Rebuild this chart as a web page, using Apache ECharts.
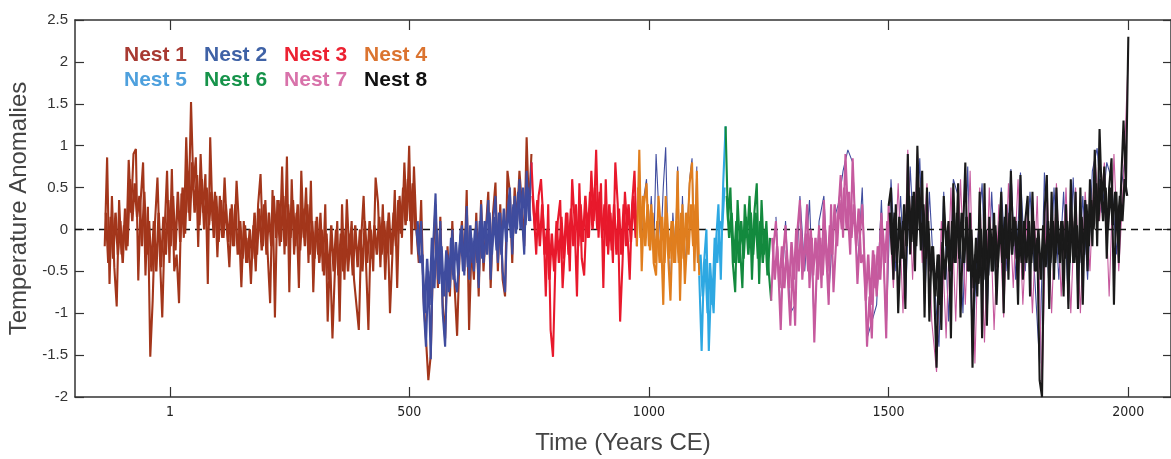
<!DOCTYPE html>
<html>
<head>
<meta charset="utf-8">
<script src="https://cdn.jsdelivr.net/npm/echarts@6/dist/echarts.min.js"></script>
<style>
html,body{margin:0;padding:0;background:#fff;}
#chart{width:1171px;height:459px;}
</style>
</head>
<body>
<div id="chart"></div>
<script>
// ---- data ----
const nestNames = ['Nest 1','Nest 2','Nest 3','Nest 4','Nest 5','Nest 6','Nest 7','Nest 8'];
const nestColors = ['#A3361B','#3F4C9E','#E8192C','#E07E1E','#2EA8E2','#138A3E','#C65A9E','#1A1A1A'];
const legendColors = ['#A83A32','#3F62A6','#EC2232','#DB7430','#4EA0DD','#16934A','#D872AA','#111111'];
const xTickValues = [1, 500, 1000, 1500, 2000];

// spike traces (5-year steps)
const nest1Start = -135;
const nest1 = [
 -0.2, 0.86, -0.65, 0.4, -0.45, -0.92, 0.35, -0.3, 0.05, -0.25,
 0.83, 0.2, 0.9, 0.96, -0.61, 0.35, 0.8, -0.55, 0.27, -1.52,
 -0.85, 0.1, 0.62, -0.3, -1.05, 0.0, 0.7, -0.4, 0.72, -0.5,
 -0.3, -0.88, 0.43, -0.1, 1.1, 0.2, 1.52, 0.5, 0.86, -0.21,
 0.9, 0.2, 0.66, -0.65, 1.1, 0.1, 0.45, -0.33, 0.4, -0.1,
 0.62, 0.0, -0.45, 0.3, -0.2, 0.58, 0.05, -0.69, 0.1, -0.4,
 -0.1, -0.65, 0.05, -0.5, 0.3, 0.66, -0.2, 0.35, -0.3, -0.88,
 0.47, -1.05, 0.35, -0.2, 0.75, -0.3, 0.87, -0.75, 0.6, -0.3,
 0.2, -0.7, 0.7, -0.1, 0.5, -0.4, 0.58, -0.75, 0.1, -0.3,
 0.2, -0.5, 0.3, -1.1, -0.3, -1.3, -0.5, 0.1, -1.1, 0.3,
 -0.6, 0.36, -0.3, 0.1, -0.6, -0.9, -1.2, -0.1, 0.4, -0.4,
 -1.2, 0.0, -0.5, 0.62, 0.32, -0.45, 0.3, -0.6, 0.1, -1.0,
 -0.3, 0.47, -0.7, 0.4, -0.1, 0.8, 0.1, 1.0, -0.3, 0.75, 0.0,
 // continues beneath Nest 2 (520-755)
 -0.4, 0.35, -0.8, -1.3, -1.8, -1.5, -0.3, 0.3, -0.7,
 0.15, -0.9, -1.3, -0.2, -0.8, 0.1, -0.7, -1.27, -0.3, 0.1,
 -0.5, 0.47, -1.2, -0.2, -0.6, 0.2, -0.8, 0.35, -0.5, 0.0,
 0.45, -0.7, 0.2, 0.56, -0.5, 0.3, -0.6, -0.8, 0.7, 0.45,
 -0.4, 0.5, 0.1, 0.7, 0.3, -0.2, 1.1, 0.2, 0.9
];
const nest2Start = 515;
const nest2 = [
 0.0, -0.3, 0.1, -0.9, -1.4, -0.5, -1.55, -0.2, 0.43, -0.6,
 0.1, -1.0, -1.4, -0.3, -0.7, 0.0, -0.6, -0.75, -0.2, 0.05,
 -0.55, 0.28, -0.6, -0.1, -0.5, 0.1, -0.7, 0.3, -0.4, -0.1,
 0.35, -0.6, 0.1, 0.4, -0.4, 0.2, -0.5, -0.75, 0.2, 0.5,
 -0.3, 0.4, 0.0, 0.6, 0.2, -0.3, 0.7, 0.1, 0.8
];
const nest2UnderAStart = 980;
const nest2UnderA = [
 0.8, -0.3, 0.4, 0.6, -0.1, 0.4, -0.3, 0.9, 0.3, -0.2,
 0.5, 0.98, -0.2, -0.7, 0.2, -0.3, 0.75, -0.7, 0.4, -0.5,
 0.0, 0.6, 0.85, -0.4, 0.75
];
const nest2UnderBStart = 1265;   // 10-year steps
const nest2UnderB = [
 0.15, -1.0, 0.1, -1.0, -0.9, 0.4, -0.5, 0.35, -1.2, 0.1,
 0.4, -0.8, 0.1, 0.3, 0.7, 0.95, 0.8, -0.5, 0.5, -1.3,
 -1.1, -0.9, 0.35, -1.2, 0.6, -0.5, 0.4, -0.9, 0.75, -0.4,
 0.85, -0.9, 0.45, -0.6, -1.4, 0.45, -1.1, 0.6, 0.4, -1.0,
 0.75, -1.5, -0.2, 0.55, -1.1, 0.45, -0.8, 0.5, -0.5, 0.72,
 -0.6, 0.68, -0.5, 0.45, -0.6, -1.6, 0.68, -0.8, 0.5, -0.6,
 0.45, -0.9, 0.62, -0.8, 0.4, -0.6, 0.7, 0.97, 0.2, 0.8,
 0.6, -0.3, 0.5, 0.9
];
const nest3Start = 755;
const nest3 = [
 0.8, 0.2, -0.3, 0.4, 0.6, 0.1, -0.8, 0.3, -1.2, -1.52,
 -0.4, 0.1, 0.35, -0.7, -0.2, 0.2, -0.5, 0.6, 0.1, -0.8,
 0.55, -0.35, -0.55, 0.2, -0.1, 0.7, 0.1, 0.95, -0.1, 0.55,
 -0.7, 0.6, -0.3, 0.2, -0.4, 0.8, 0.3, -1.1, -0.4, 0.45,
 0.0, -0.6, 0.3, 0.7, -0.2
];
const nest4Start = 975;
const nest4 = [
 -0.2, 0.95, -0.5, 0.3, 0.55, -0.2, 0.3, -0.4, -0.55, 0.4,
 0.0, -0.9, 0.4, -0.3, -0.85, 0.1, -0.4, 0.7, -0.85, 0.3,
 -0.65, -0.1, 0.55, 0.8, -0.5, 0.7, -0.55
];
const nest5Start = 1105;
const nest5 = [
 -0.55, -1.45, -0.4, 0.0, -1.45, -0.6, -1.0, -0.15, 0.3, -0.6, 0.55, 1.23
];
const nest6Start = 1160;
const nest6 = [
 1.23, 0.1, 0.5, -0.4, -0.75, 0.35, -0.2, -0.7, 0.3, -0.1,
 0.4, -0.6, 0.2, 0.55, -0.65, 0.35, -0.3, 0.1, -0.5, -0.85
];
const nest7Start = 1255;
const nest7 = [
 -0.85, -0.2, 0.1, -0.5, -1.2, -0.3, 0.05, -0.6, -1.15, -0.4,
 -1.15, 0.0, 0.35, -0.6, -0.2, 0.3, -0.7, -0.1, -1.35, -0.5,
 0.05, -0.7, 0.35, -0.3, -0.9, 0.3, -0.75, -0.2, 0.2, 0.65,
 -0.1, 0.9, 0.2, -0.3, 0.85, 0.1, -0.65, -0.1, 0.3, -0.4,
 -1.4, -0.8, -1.3, -0.3, -0.8, -0.4, 0.2, -0.4, -1.3, 0.28
];
const nest7UnderStart = 1500;    // 10-year steps
const nest7Under = [
 0.3, -0.7, 0.55, -1.0, 0.95, -0.6, 0.9, -0.4, 0.55, -1.1,
 -1.7, 0.1, -1.3, 0.5, -1.1, 0.6, -0.9, 0.7, -1.6, 0.5,
 -1.35, 0.5, -1.2, 0.3, -1.05, 0.55, -0.7, 0.6, -0.9, 0.3,
 -1.0, 0.4, -1.9, 0.6, -1.0, 0.55, -0.8, 0.5, -1.0, 0.5,
 -1.0, 0.45, -0.5, 0.9, 0.1, 0.8, -0.8, 0.9, -0.5, 0.6, 2.1
];
const nest8Start = 1500;
const nest8 = [
 0.28, 0.5, -0.6, 0.3, -1.0, -0.2, 0.1, -0.95, 0.9, -0.3,
 0.4, -0.5, 1.0, 0.0, 0.7, -1.05, 0.5, -1.1, -0.2, -0.7,
 -1.65, -0.3, -1.2, 0.4, -0.2, 0.1, -1.3, 0.55, -0.4, 0.55,
 -1.05, -0.1, 0.8, -0.5, 0.2, -1.65, -0.3, -0.8, 0.45, -1.3,
 0.55, -1.15, 0.15, -0.5, 0.2, -0.9, -0.1, 0.45, -1.0, 0.3,
 -0.6, 0.7, -0.2, 0.1, -0.9, 0.65, -0.6, 0.1, 0.4, -0.8,
 0.45, -0.5, -0.1, -1.8, -2.0, 0.2, 0.65, -0.95, 0.45, -0.6,
 0.5, -0.3, 0.1, -0.8, 0.3, -0.95, 0.6, -0.4, 0.45, -0.95,
 0.5, -0.9, 0.35, -0.5, 0.6, -0.2, 0.95, -0.2, 1.2, 0.3,
 0.75, -0.35, 0.5, 0.85, -0.9, 0.45, -0.4, 0.55, 1.3, 0.5, 2.3
];

// dense core traces (5-year steps, offset 2.5 years)
const core1Start = -132.5;
const core1 = [
 0.2,-0.4,0.15,-0.35,0.2,-0.3,0.1,-0.4,0.25,-0.2,
 0.6,0.1,0.55,0.15,0.4,-0.2,0.45,-0.3,0.1,-0.5,
 0.1,-0.5,0.2,-0.45,0.15,-0.3,0.35,-0.2,0.4,-0.25,
 0.45,-0.15,0.5,-0.05,0.7,0.1,0.8,0.2,0.65,0.05,
 0.6,0.0,0.5,0.05,0.45,-0.1,0.4,-0.15,0.35,-0.1,
 0.3,-0.15,0.25,-0.2,0.3,-0.3,0.1,-0.35,0.05,-0.4,
 0.0,-0.35,0.2,-0.3,0.25,-0.25,0.3,-0.3,0.2,-0.2,
 0.4,-0.1,0.35,-0.15,0.4,-0.2,0.3,-0.1,0.35,-0.2,
 0.3,-0.25,0.25,-0.2,0.3,-0.3,0.1,-0.35,0.15,-0.4,
 0.0,-0.55,-0.05,-0.6,0.05,-0.5,0.0,-0.55,-0.05,-0.5,
 0.0,-0.5,-0.05,-0.55,0.05,-0.45,0.0,-0.5,0.1,-0.4,
 0.1,-0.35,0.05,-0.3,0.15,-0.3,0.1,-0.25,0.2,-0.3,
 0.2,-0.2,0.35,-0.05,0.5,0.05,0.6,0.1,0.55,0.0
];
const core2Start = 517.5;
const core2 = [
 0.1,-0.4,-0.3,-1.0,-0.35,-0.9,-0.1,-0.7,0.0,-0.65,
 -0.2,-0.8,-0.25,-0.75,-0.1,-0.6,-0.15,-0.55,0.0,-0.5,
 0.0,-0.45,0.05,-0.4,0.0,-0.4,0.1,-0.35,0.1,-0.3,
 0.2,-0.3,0.15,-0.25,0.2,-0.3,0.25,-0.15,0.3,-0.1,
 0.3,-0.05,0.45,0.0,0.5,0.05,0.5,0.1
];
const core3Start = 757.5;
const core3 = [
 0.4,0.0,0.35,-0.2,0.3,-0.3,0.0,-0.6,-0.05,-0.5,
 0.1,-0.4,0.15,-0.35,0.2,-0.3,0.25,-0.2,0.3,-0.2,
 0.3,-0.15,0.4,-0.1,0.45,0.0,0.5,0.0,0.45,-0.1,
 0.3,-0.2,0.3,-0.25,0.3,-0.3,0.25,-0.3,0.3,-0.2,
 0.3,-0.15,0.4,-0.1
];
const core4Start = 977.5;
const core4 = [
 0.5,-0.1,0.4,-0.2,0.3,-0.25,0.2,-0.4,0.1,-0.4,
 0.15,-0.4,0.2,-0.35,0.1,-0.4,0.1,-0.4,0.2,-0.35,
 0.2,-0.3,0.3,-0.2,0.3,-0.4
];
const core5Start = 1107.5;
const core5 = [-0.3,-0.8,-0.35,-1.0,-0.4,-0.9,-0.1,-0.4,0.1,0.0,0.5];
const core6Start = 1162.5;
const core6 = [0.4,-0.1,0.2,-0.4,0.1,-0.4,0.1,-0.35,0.15,-0.3,0.2,-0.3,0.2,-0.35,0.1,-0.4,0.0,-0.55,-0.1];
const core7Start = 1257.5;
const core7 = [
 -0.1,-0.6,-0.2,-0.7,-0.2,-0.7,-0.25,-0.7,-0.15,-0.6,
 0.0,-0.5,0.0,-0.5,-0.05,-0.5,0.0,-0.55,-0.1,-0.6,
 -0.1,-0.55,0.0,-0.5,0.05,-0.3,0.3,-0.2,0.35,0.0,
 0.5,0.0,0.45,-0.1,0.3,-0.2,0.25,-0.4,-0.3,-0.85,
 -0.3,-0.9,-0.25,-0.7,-0.2,-0.6,0.0,-0.4,0.1
];
const core8Start = 1502.5;
const core8 = [
 0.2,-0.3,0.2,-0.4,0.15,-0.35,0.3,-0.2,0.4,-0.15,
 0.45,-0.2,0.5,-0.25,0.3,-0.35,0.1,-0.5,-0.2,-0.8,
 -0.3,-0.9,-0.15,-0.6,-0.1,-0.5,0.1,-0.4,0.2,-0.35,
 0.2,-0.4,0.15,-0.5,0.0,-0.7,-0.1,-0.65,0.0,-0.6,
 0.0,-0.55,0.0,-0.5,0.05,-0.45,0.1,-0.4,0.15,-0.35,
 0.2,-0.3,0.15,-0.35,0.1,-0.4,0.1,-0.4,0.1,-0.4,
 0.1,-0.5,0.0,-0.6,0.05,-0.45,0.1,-0.4,0.1,-0.4,
 0.1,-0.4,0.1,-0.35,0.1,-0.4,0.1,-0.4,0.05,-0.4,
 0.15,-0.3,0.3,-0.2,0.35,0.0,0.55,0.1,0.6,0.1,
 0.5,0.0,0.5,0.05,0.45,0.0,0.4,0.1,0.6,0.4
];

const mainLayers = [
  {nest: 0, start: nest1Start, vals: nest1, coreStart: core1Start, core: core1},
  {nest: 1, start: nest2Start, vals: nest2, coreStart: core2Start, core: core2},
  {nest: 2, start: nest3Start, vals: nest3, coreStart: core3Start, core: core3},
  {nest: 3, start: nest4Start, vals: nest4, coreStart: core4Start, core: core4},
  {nest: 4, start: nest5Start, vals: nest5, coreStart: core5Start, core: core5},
  {nest: 5, start: nest6Start, vals: nest6, coreStart: core6Start, core: core6},
  {nest: 6, start: nest7Start, vals: nest7, coreStart: core7Start, core: core7},
  {nest: 7, start: nest8Start, vals: nest8, coreStart: core8Start, core: core8}
];
const underLayers = [
  {nest: 1, start: nest2UnderAStart, step: 5, vals: nest2UnderA},
  {nest: 1, start: nest2UnderBStart, step: 10, vals: nest2UnderB},
  {nest: 6, start: nest7UnderStart, step: 10, vals: nest7Under}
];

function pairs(start, step, vals) { return vals.map((v, i) => [start + step * i, v]); }

const chart = echarts.init(document.getElementById('chart'), null, {renderer: 'canvas'});

function lineSeries(nest, data, width, z) {
  const c = nestColors[nest];
  return {
    name: nestNames[nest], type: 'line', data: data,
    showSymbol: false, symbol: 'none',
    lineStyle: {width: width, color: c},
    itemStyle: {color: c},
    z: z, animation: false, silent: true
  };
}

const series = [];
underLayers.forEach(l => series.push(lineSeries(l.nest, pairs(l.start, l.step, l.vals), 1.1, 2)));
mainLayers.forEach((l, k) => {
  series.push(lineSeries(l.nest, pairs(l.coreStart, 5, l.core), 2.4, 10 + 2 * k));
  series.push(lineSeries(l.nest, pairs(l.start, 5, l.vals), 2.1, 11 + 2 * k));
});
// zero reference (dashed)
series.push({
  name: 'zero', type: 'line', data: [], z: 1, silent: true,
  markLine: {
    silent: true, symbol: 'none', label: {show: false},
    lineStyle: {type: [7, 5], color: '#111', width: 1.3},
    data: [{yAxis: 0}]
  }
});

const axisColor = '#333';
const sansFont = "'Liberation Sans',Arial,sans-serif";
const narrowFont = "'Liberation Sans Narrow','DejaVu Sans Condensed','Liberation Sans',sans-serif";

function legendRow(names, top, colorsOffset) {
  return {
    show: true, top: top, left: 124, orient: 'horizontal',
    icon: 'none', itemWidth: 0, itemHeight: 0, itemGap: 17, padding: 0,
    selectedMode: false,
    data: names.map((n, i) => ({name: n, textStyle: {color: legendColors[colorsOffset + i]}})),
    textStyle: {fontFamily: sansFont, fontSize: 21, fontWeight: 'bold', padding: [0,0,0,-5]}
  };
}

chart.setOption({
  backgroundColor: '#fff',
  animation: false,
  legend: [legendRow(nestNames.slice(0, 4), 45, 0), legendRow(nestNames.slice(4), 70, 4)],
  grid: {left: 75, right: 0, top: 20, bottom: 62, containLabel: false, outerBoundsMode: 'none'},
  xAxis: [{
    type: 'value', position: 'bottom', min: -197, max: 2089,
    name: 'Time (Years CE)', nameLocation: 'middle', nameGap: 34,
    nameTextStyle: {fontFamily: sansFont, fontSize: 24, color: '#444'},
    axisLine: {show: true, onZero: false, lineStyle: {color: axisColor, width: 1.5}},
    axisTick: {show: true, inside: true, length: 10, customValues: xTickValues, lineStyle: {color: axisColor, width: 1.2}},
    axisLabel: {show: true, customValues: xTickValues, margin: 8, fontFamily: narrowFont, fontSize: 14, color: '#222',
      formatter: v => String(v)},
    splitLine: {show: false}
  }, {
    type: 'value', position: 'top', min: -197, max: 2089,
    axisLine: {show: true, onZero: false, lineStyle: {color: axisColor, width: 1.5}},
    axisTick: {show: true, inside: true, length: 10, customValues: xTickValues, lineStyle: {color: axisColor, width: 1.2}},
    axisLabel: {show: false}, splitLine: {show: false}
  }],
  yAxis: [{
    type: 'value', position: 'left', min: -2, max: 2.5, interval: 0.5,
    name: 'Temperature Anomalies', nameLocation: 'middle', nameGap: 41, nameRotate: 90,
    nameTextStyle: {fontFamily: sansFont, fontSize: 24, color: '#444'},
    axisLine: {show: true, onZero: false, lineStyle: {color: axisColor, width: 1.5}},
    axisTick: {show: true, inside: true, length: 9, lineStyle: {color: axisColor, width: 1.2}},
    axisLabel: {show: true, margin: 7, fontFamily: sansFont, fontSize: 15, color: '#333',
      formatter: v => String(v)},
    splitLine: {show: false}
  }, {
    type: 'value', position: 'right', min: -2, max: 2.5, interval: 0.5,
    axisLine: {show: true, onZero: false, lineStyle: {color: axisColor, width: 1.5}},
    axisTick: {show: true, inside: true, length: 8, lineStyle: {color: axisColor, width: 1.2}},
    axisLabel: {show: false}, splitLine: {show: false}
  }],
  series: series
});
</script>
</body>
</html>
